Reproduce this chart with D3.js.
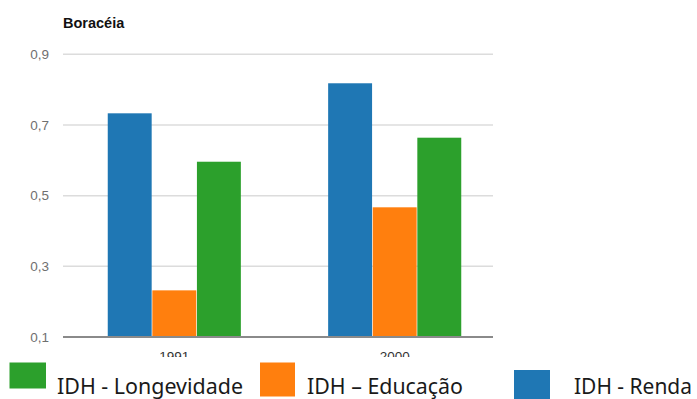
<!DOCTYPE html>
<html><head><meta charset="utf-8">
<script src="https://cdn.jsdelivr.net/npm/d3@7/dist/d3.min.js"></script>
<style>body{margin:0;background:#fff}svg{display:block}</style>
</head><body>
<svg id="c" width="697" height="399"></svg>
<script>
const title = "Boracéia";
const years = ["1991", "2000"];
const series = ["IDH - Renda", "IDH – Educação", "IDH - Longevidade"];
const renda = [0.733, 0.818];
const educacao = [0.232, 0.467];
const longevidade = [0.596, 0.664];
const yTicks = [0.1, 0.3, 0.5, 0.7, 0.9];
const legendOrder = ["IDH - Longevidade", "IDH – Educação", "IDH - Renda"];
const colors = ["#1f77b4", "#ff7f0e", "#2ca02c"];

const values = [renda, educacao, longevidade];
const svg = d3.select("#c");
const y = d3.scaleLinear().domain([0.1, 0.9]).range([337, 54.3]);
const x0 = d3.scaleBand().domain(years).range([63, 506]).paddingInner(0.39).paddingOuter(0.2);
const x1 = d3.scaleBand().domain(series).range([0, x0.bandwidth()]).padding(0.015);
const color = d3.scaleOrdinal().domain(series).range(colors);
const fmt = v => d3.format(".1f")(v).replace(".", ",");

// gridlines
svg.append("g").selectAll("line").data(yTicks.slice(1)).join("line")
  .attr("x1", 63).attr("x2", 493).attr("y1", d => y(d)).attr("y2", d => y(d))
  .attr("stroke", "#dcdcdc").attr("stroke-width", 1.5);

// y labels
svg.append("g").selectAll("text").data(yTicks).join("text")
  .attr("x", 49).attr("y", d => y(d)).attr("dy", "0.35em").attr("text-anchor", "end")
  .attr("font-family", "Liberation Sans, Arial, sans-serif").attr("font-size", 13.5)
  .attr("fill", "#6f6f6f").text(fmt);

// bars
const g = svg.append("g");
years.forEach((yr, i) => {
  g.append("g").attr("transform", `translate(${x0(yr)},0)`)
    .selectAll("rect").data(series.map((s, k) => ({s, v: values[k][i]}))).join("rect")
    .attr("x", d => x1(d.s)).attr("width", x1.bandwidth())
    .attr("y", d => y(d.v)).attr("height", d => y(0.1) - y(d.v))
    .attr("fill", d => color(d.s));
});

// baseline
svg.append("line").attr("x1", 63).attr("x2", 493).attr("y1", y(0.1)).attr("y2", y(0.1))
  .attr("stroke", "#8a8a8a").attr("stroke-width", 2);

// x labels
svg.append("g").selectAll("text").data(years).join("text")
  .attr("x", d => x0(d) + x0.bandwidth() / 2).attr("y", 361).attr("text-anchor", "middle")
  .attr("font-family", "Liberation Sans, Arial, sans-serif").attr("font-size", 13.5)
  .attr("fill", "#333").text(d => d);

// title
svg.append("text").attr("x", 63).attr("y", 27.5)
  .attr("font-family", "Liberation Sans, Arial, sans-serif").attr("font-size", 14.5).attr("font-weight", "bold")
  .attr("fill", "#111").text(title);

// legend overlay (covers lower part of x labels)
svg.append("rect").attr("x", 0).attr("y", 357).attr("width", 697).attr("height", 42).attr("fill", "#fff");
const legendPos = [
  {sx: 9.5, sy: 362.5, sw: 36.5, sh: 26, tx: 57, tw: 186},
  {sx: 260, sy: 362.5, sw: 35, sh: 34, tx: 307, tw: 156},
  {sx: 514, sy: 370, sw: 36, sh: 29, tx: 574, tw: 118}
];
const lg = svg.append("g");
legendOrder.forEach((name, i) => {
  const p = legendPos[i];
  lg.append("rect").attr("x", p.sx).attr("y", p.sy).attr("width", p.sw).attr("height", p.sh)
    .attr("fill", color(name));
  lg.append("text").attr("x", p.tx).attr("y", 394)
    .attr("font-family", "Noto Sans, Open Sans, sans-serif").attr("font-size", 21)
    .attr("textLength", p.tw).attr("lengthAdjust", "spacingAndGlyphs")
    .attr("fill", "#1a1a1a").text(name);
});
</script>
</body></html>
